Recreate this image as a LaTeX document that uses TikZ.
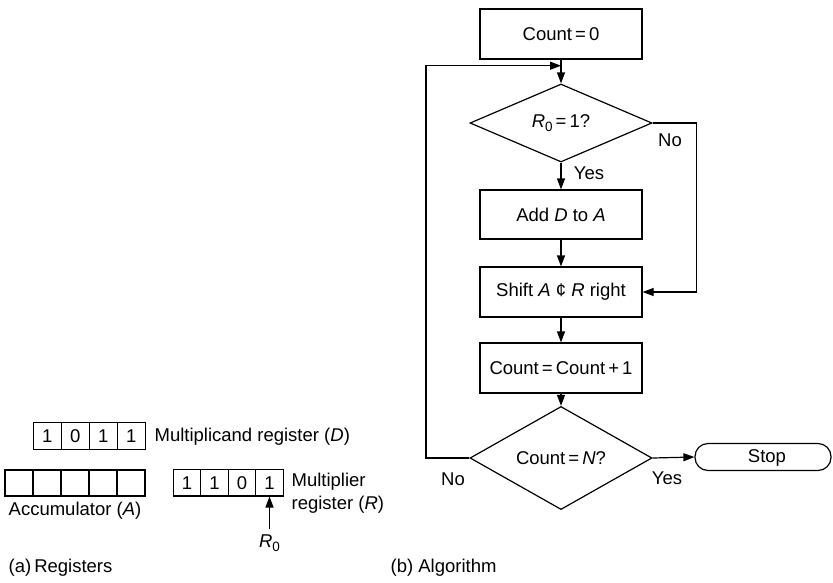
\documentclass[tikz,border=0pt]{standalone}
\usepackage{fontspec}
\setmainfont{Liberation Sans}
\usetikzlibrary{shapes.geometric,arrows.meta}
\newcommand{\Rz}{\textit{R}\raisebox{-0.4ex}{\fontsize{13.5}{15}\selectfont 0}}
\begin{document}
\begin{tikzpicture}[x=1pt,y=-1pt,
  font=\fontsize{18.5}{21}\selectfont,
  line width=1.2pt,
  arr/.style={-{Triangle[length=11pt,width=8pt]}},
  procbox/.style={draw,rectangle,minimum width=162pt,minimum height=50pt,inner sep=0pt},
  decide/.style={draw,diamond,minimum width=182pt,minimum height=78pt,inner sep=0pt},
  cell/.style={draw,rectangle,minimum height=26.5pt,inner sep=0pt},
  lbl/.style={inner sep=0pt}]
\useasboundingbox (0,0) rectangle (833,582);
% flowchart
\node[procbox] (c0) at (561,34) {Count\,=\,0};
\node[decide] (d1) at (561,123) {\Rz\,=\,1?};
\node[procbox,minimum height=49pt] (add) at (561,214.5) {Add \textit{D} to \textit{A}};
\node[procbox] (shift) at (561,292) {Shift \textit{A} ¢ \textit{R} right};
\node[procbox] (cnt) at (561,368) {Count\,=\,Count\,+\,1};
\node[decide] (d2) at (561,458) {Count\,=\,\textit{N}?};
\node[draw,rectangle,rounded corners=13pt,minimum width=136pt,minimum height=27pt,inner sep=0pt] (stop) at (763,457) {};
\node[lbl] (stoptxt) at (767,458) {Stop};
\coordinate (join) at (561,65.7);
\draw (c0.south) -- (join);
\draw[arr] (join) -- (d1.north);
\draw[arr] (d1.south) -- (add.north);
\draw[arr] (add.south) -- (shift.north);
\draw[arr] (shift.south) -- (cnt.north);
\draw[arr] (cnt.south) -- (d2.north);
\draw[arr] (d1.east) -- ++(44,0) |- (shift.east);
\draw[arr] (d2.west) -- ++(-43.5,0) |- (join);
\draw[arr] (d2.east) -- (stop.west);
\node[lbl] (no1) at (670,140) {No};
\node[lbl] (yes1) at (589,173) {Yes};
\node[lbl] (no2) at (453,479) {No};
\node[lbl] (yes2) at (667,478) {Yes};
% registers
\node[cell,minimum width=28pt] (d1c) at (47.3,436) {1};
\node[cell,minimum width=28pt] (d2c) at (75.3,436) {0};
\node[cell,minimum width=28pt] (d3c) at (103.3,436) {1};
\node[cell,minimum width=28pt] (d4c) at (131.3,436) {1};
\node[lbl,anchor=west] (dtxt) at (154,437) {Multiplicand register (\textit{D})};
\node[cell,minimum width=28pt,minimum height=26pt] (a1) at (19,483) {};
\node[cell,minimum width=28pt,minimum height=26pt] (a2) at (47,483) {};
\node[cell,minimum width=28pt,minimum height=26pt] (a3) at (75,483) {};
\node[cell,minimum width=28pt,minimum height=26pt] (a4) at (103,483) {};
\node[cell,minimum width=28pt,minimum height=26pt] (a5) at (131,483) {};
\node[lbl] (atxt) at (75,511) {Accumulator (\textit{A})};
\node[cell,minimum width=27.5pt] (r1) at (187,482.7) {1};
\node[cell,minimum width=27.5pt] (r2) at (214.5,482.7) {1};
\node[cell,minimum width=27.5pt] (r3) at (242,482.7) {0};
\node[cell,minimum width=27.5pt] (r4) at (269.5,482.7) {1};
\node[lbl,anchor=west] (rtxt1) at (291,482) {Multiplier};
\node[lbl,anchor=west] (rtxt2) at (291,505) {register (\textit{R})};
\node[lbl] (r0) at (269.5,543) {\Rz};
\coordinate (r0top) at (269.5,529);
\draw[arr] (r0top) -- (r4.south);
\node[lbl,anchor=west] (capa) at (8,568) {(a)\,Registers};
\node[lbl,anchor=west] (capb) at (390,568) {(b) Algorithm};
\end{tikzpicture}
\end{document}
